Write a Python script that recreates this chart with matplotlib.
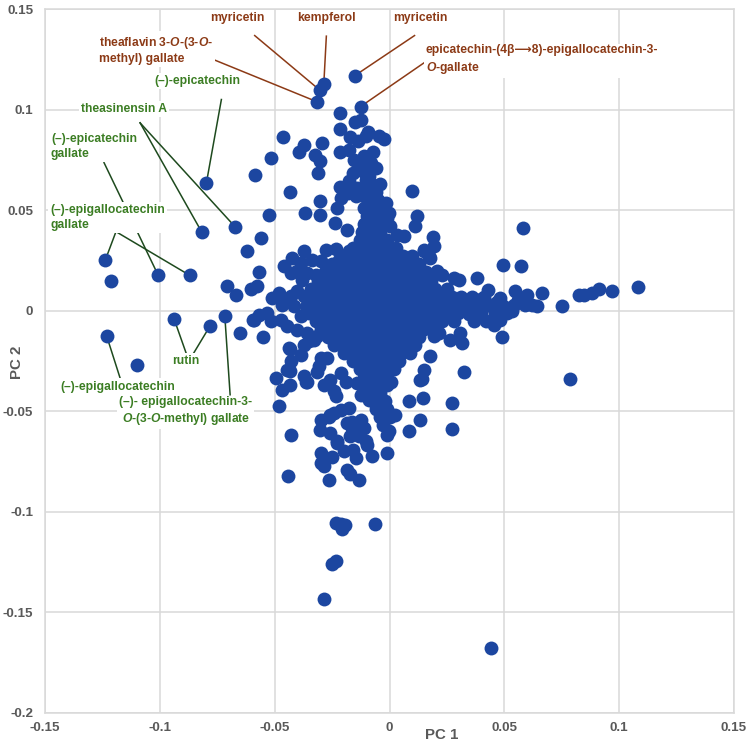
import numpy as np
import matplotlib
matplotlib.use("Agg")
import matplotlib.pyplot as plt

plt.rcParams['font.family'] = ['Liberation Sans', 'DejaVu Sans']
plt.rcParams['font.weight'] = 'bold'
plt.rcParams['mathtext.fontset'] = 'custom'
plt.rcParams['mathtext.it'] = 'Liberation Sans:italic:bold'
plt.rcParams['mathtext.rm'] = 'Liberation Sans:bold'
plt.rcParams['mathtext.bf'] = 'Liberation Sans:bold'

# labelled compounds (PC1, PC2)
named = ['myricetin', 'kempferol', 'theaflavin', 'myricetin2', 'ec-egcg',
         'epicatechin', 'theasinensinA1', 'theasinensinA2', 'ecg', 'egcg1',
         'egcg2', 'rutin1', 'rutin2', 'egc', 'egcg-methyl']
named_pc1 = [-0.0303, -0.0286, -0.0314, -0.0152, -0.0126, -0.0797, -0.0817, -0.0673,
             -0.1007, -0.1238, -0.0870, -0.0938, -0.0781, -0.1232, -0.0717]
named_pc2 = [0.1096, 0.1129, 0.1038, 0.1168, 0.1015, 0.0637, 0.0390, 0.0418,
             0.0176, 0.0250, 0.0176, -0.0041, -0.0075, -0.0124, -0.0028]

# scattered points around the main cloud
pc1 = [-0.0462, -0.0217, -0.0152, -0.0123, -0.0217, -0.0170, -0.0138, -0.0101, -0.0093,
       -0.0047, -0.0025, -0.0373, -0.0394, -0.0296, -0.0323, -0.0303, -0.0217, -0.0177,
       -0.0155, -0.0112, -0.0073, -0.0080, -0.0126, -0.0158, -0.0109, -0.0104, -0.0514,
       -0.0587, -0.0312, -0.0435, -0.0217, -0.0177, -0.0140, -0.0180, -0.0148, -0.0112,
       -0.0210, -0.0303, 0.0099, -0.0230, -0.0525, -0.0368, -0.0303, -0.0238, -0.0184,
       -0.0071, -0.0017, -0.0003, 0.0001, -0.0083, -0.0112, 0.0120, 0.0113, 0.0033,
       0.0062, 0.0190, -0.0561, -0.0619, -0.0010, 0.0149, 0.0171, 0.0193, 0.0152,
       0.0178, 0.0207, 0.0229,
       # right arm
       0.0581, 0.0494, 0.0574, 0.0381, 0.0280, 0.0301, 0.0427, 0.0548, 0.0599, 0.0664,
       0.0642, 0.0620, 0.0533, 0.0483, 0.0751, 0.0826, 0.0848, 0.0881, 0.0910, 0.0968,
       0.1080, 0.0784, 0.0453, 0.0483, 0.0490, 0.0262, 0.0309, 0.0316, 0.0178, 0.0149,
       0.0142, 0.0323, 0.0007, 0.0084, 0.0145, 0.0270, -0.0036, 0.0026, 0.0132, 0.0270,
       0.0084, -0.0003, -0.0010, -0.0013, 0.0193, 0.0214, 0.0132,
       0.0330, 0.0365, 0.0400, 0.0440, 0.0470, 0.0515, 0.0560, 0.0600, 0.0250, 0.0345,
       # left side
       -0.1213, -0.1101, -0.0652, -0.0706, -0.0667, -0.0567, -0.0601, -0.0578, -0.0594,
       -0.0553, -0.0568, -0.0532, -0.0496, -0.0481, -0.0467, -0.0433, -0.0433, -0.0362,
       -0.0433, -0.0427, -0.0442, -0.0264, -0.0133, -0.0184, -0.0170, -0.0297, -0.0300,
       -0.0249, -0.0199, -0.0148, -0.0075, -0.0303, -0.0257, -0.0227, -0.0184, -0.0155,
       -0.0126, -0.0170, -0.0133, -0.0104, -0.0213, -0.0177, -0.0242, -0.0264, -0.0300,
       -0.0286, -0.0227, -0.0158, -0.0097, -0.0126, -0.0090, -0.0053, -0.0047, -0.0140,
       -0.0112, -0.0075, -0.0047, -0.0286, -0.0257, -0.0242, -0.0235, -0.0191, -0.0213,
       -0.0361, -0.0314, -0.0257, -0.0162, -0.0162, -0.0112, -0.0097,
       -0.0459, -0.0423, -0.0430, -0.0387, -0.0373, -0.0336, -0.0300, -0.0278, -0.0235,
       -0.0510, -0.0481, -0.0467, -0.0445, -0.0590, -0.0517, -0.0401, -0.0380, -0.0358,
       -0.0322, -0.0300, -0.0264, -0.0257, -0.0220, -0.0199, -0.0177, -0.0170, -0.0191,
       -0.0438, -0.0430, -0.0387, -0.0373, -0.0351, -0.0329, -0.0307, -0.0300, -0.0271,
       -0.0445, -0.0373, -0.0430, -0.0401, -0.0373, -0.0416, -0.0387, -0.0358, -0.0474,
       -0.0445, -0.0401, -0.0358, -0.0314,
       # bottom tail
       -0.0235, -0.0210, -0.0193, -0.0209, -0.0064, -0.0235, -0.0252, -0.0287, 0.0441]
pc2 = [0.0866, 0.0985, 0.0939, 0.0947, 0.0902, 0.0864, 0.0842, 0.0867, 0.0889,
       0.0867, 0.0856, 0.0822, 0.0790, 0.0836, 0.0776, 0.0743, 0.0790, 0.0801,
       0.0751, 0.0768, 0.0790, 0.0735, 0.0718, 0.0685, 0.0688, 0.0652, 0.0758,
       0.0677, 0.0685, 0.0592, 0.0615, 0.0643, 0.0610, 0.0586, 0.0569, 0.0569,
       0.0561, 0.0547, 0.0594, 0.0511, 0.0478, 0.0486, 0.0478, 0.0436, 0.0403,
       0.0511, 0.0536, 0.0486, 0.0419, 0.0436, 0.0403, 0.0469, 0.0419, 0.0378,
       0.0370, 0.0367, 0.0362, 0.0295, 0.0461, 0.0303, 0.0270, 0.0320, 0.0299,
       0.0262, 0.0196, 0.0179,
       0.0411, 0.0229, 0.0220, 0.0163, 0.0163, 0.0154, 0.0104, 0.0096, 0.0080, 0.0088,
       0.0021, 0.0030, -0.0003, 0.0063, 0.0025, 0.0080, 0.0080, 0.0088, 0.0108, 0.0100,
       0.0116, -0.0338, -0.0070, -0.0048, -0.0133, -0.0144, -0.0111, -0.0161, -0.0224, -0.0297,
       -0.0338, -0.0307, -0.0352, -0.0451, -0.0434, -0.0459, -0.0463, -0.0517, -0.0542, -0.0589,
       -0.0600, -0.0600, -0.0617, -0.0708, -0.0128, -0.0111, -0.0343,
       0.0040, 0.0010, 0.0060, 0.0025, 0.0045, 0.0015, 0.0055, 0.0035, 0.0070, -0.0015,
       0.0146, -0.0269, -0.0111, 0.0124, 0.0080, 0.0193, 0.0108, 0.0124, -0.0048,
       -0.0133, -0.0020, -0.0011, -0.0335, -0.0473, -0.0393, -0.0368, -0.0302, -0.0352,
       -0.0189, -0.0617, -0.0821, -0.0841, -0.0841, -0.0791, -0.0811, -0.0705, -0.0758,
       -0.0725, -0.0700, -0.0733, -0.0721, -0.0592, -0.0608, -0.0658, -0.0559, -0.0592,
       -0.0542, -0.0625, -0.0625, -0.0650, -0.0493, -0.0484, -0.0509, -0.0526, -0.0542,
       -0.0771, -0.0650, -0.0692, -0.0393, -0.0418, -0.0443, -0.0434, -0.0464, -0.0360,
       -0.0335, -0.0318, -0.0310, -0.0368, -0.0343, -0.0401, -0.0426, -0.0352, -0.0310,
       -0.0355, -0.0307, -0.0517, -0.0551, -0.0584, -0.0584, -0.0667,
       0.0220, 0.0262, 0.0188, 0.0237, 0.0295, 0.0254, 0.0245, 0.0303, 0.0307,
       0.0063, 0.0088, 0.0030, 0.0055, -0.0045, -0.0053, 0.0196, 0.0154, 0.0188,
       0.0179, 0.0154, 0.0179, 0.0129, 0.0254, 0.0196, 0.0295, 0.0254, 0.0146,
       -0.0186, -0.0252, -0.0219, -0.0169, -0.0153, -0.0144, -0.0277, -0.0235, -0.0235,
       -0.0294, -0.0327, 0.0071, 0.0096, 0.0071, 0.0021, -0.0028, 0.0005, -0.0045,
       -0.0078, -0.0095, -0.0111, -0.0128,
       -0.1056, -0.1059, -0.1065, -0.1086, -0.1061, -0.1244, -0.1259, -0.1433, -0.1675]

# dense centre of the cloud, read row by row (PC2 level -> PC1 values)
core_pc2 = [0.071, 0.067, 0.063, 0.059, 0.055, 0.051, 0.047, 0.043, 0.039, 0.035,
            0.031, 0.027, 0.023, 0.019, 0.015, 0.011, 0.007, 0.003, -0.001, -0.005,
            -0.009, -0.013, -0.017, -0.021, -0.025, -0.029, -0.033, -0.037, -0.041,
            -0.045, -0.049, -0.053, -0.057]
core_pc1 = [
    [-0.006],
    [-0.009],
    [-0.008, -0.004],
    [-0.010, -0.006],
    [-0.009, -0.005],
    [-0.011, -0.007, -0.003],
    [-0.010, -0.006, -0.002],
    [-0.011, -0.007, -0.003],
    [-0.012, -0.008, -0.004],
    [-0.013, -0.009, -0.005, -0.001],
    [-0.016, -0.011, -0.006, -0.002, 0.003],
    [-0.019, -0.014, -0.009, -0.004, 0.001, 0.006, 0.010],
    [-0.025, -0.020, -0.015, -0.010, -0.005, 0.000, 0.004, 0.009, 0.013],
    [-0.028, -0.023, -0.018, -0.013, -0.008, -0.003, 0.002, 0.007, 0.011, 0.016],
    [-0.031, -0.026, -0.021, -0.016, -0.011, -0.006, -0.001, 0.004, 0.009, 0.014, 0.018],
    [-0.034, -0.029, -0.024, -0.019, -0.014, -0.009, -0.004, 0.001, 0.006, 0.011, 0.016,
     0.020, 0.025],
    [-0.033, -0.028, -0.023, -0.018, -0.013, -0.008, -0.003, 0.002, 0.007, 0.012, 0.017,
     0.022, 0.027, 0.031, 0.036, 0.041],
    [-0.036, -0.031, -0.026, -0.021, -0.016, -0.011, -0.006, -0.001, 0.004, 0.009, 0.014,
     0.019, 0.024, 0.029, 0.034, 0.039, 0.044, 0.049, 0.054, 0.059],
    [-0.035, -0.030, -0.025, -0.020, -0.015, -0.010, -0.005, 0.000, 0.005, 0.010, 0.015,
     0.020, 0.025, 0.030, 0.035, 0.040, 0.046, 0.051],
    [-0.032, -0.027, -0.022, -0.017, -0.012, -0.007, -0.002, 0.003, 0.008, 0.013, 0.018,
     0.023, 0.028, 0.037, 0.042],
    [-0.030, -0.025, -0.020, -0.015, -0.010, -0.005, 0.000, 0.005, 0.010, 0.015, 0.020],
    [-0.027, -0.022, -0.017, -0.012, -0.007, -0.002, 0.003, 0.008, 0.013],
    [-0.024, -0.019, -0.014, -0.009, -0.004, 0.001, 0.006, 0.011],
    [-0.020, -0.015, -0.010, -0.005, 0.000, 0.005, 0.009],
    [-0.016, -0.011, -0.006, -0.001, 0.004],
    [-0.013, -0.008, -0.003, 0.002],
    [-0.010, -0.006, -0.002],
    [-0.009, -0.005, -0.001],
    [-0.008, -0.004],
    [-0.007, -0.002],
    [-0.006, -0.001],
    [-0.004, 0.000],
    [-0.003],
]

xticks = [-0.15, -0.1, -0.05, 0, 0.05, 0.1, 0.15]
yticks = [-0.2, -0.15, -0.1, -0.05, 0, 0.05, 0.1, 0.15]

brown = '#8c3a16'
green = '#3b7d23'
green_line = '#1e4a1e'
blue = '#1c46a0'
grey = '#595959'

fig = plt.figure(figsize=(7.5, 7.44), dpi=100)
ax = fig.add_axes([0.06, 0.0417, 0.9187, 0.9462])

cx = [x for row in core_pc1 for x in row]
cy = [y for y, row in zip(core_pc2, core_pc1) for _ in row]
all_x = np.concatenate([pc1, cx, named_pc1])
all_y = np.concatenate([pc2, cy, named_pc2])
ax.scatter(all_x, all_y, s=100, color=blue, linewidths=0, zorder=3)

ax.set_xlim(-0.15, 0.15)
ax.set_ylim(-0.2, 0.15)
ax.set_xticks(xticks)
ax.set_xticklabels([f'{t:g}' for t in xticks])
ax.set_yticks(yticks)
ax.set_yticklabels([f'{t:g}' for t in yticks])
ax.tick_params(length=0, labelsize=9.6, labelcolor=grey)
ax.tick_params(axis='x', pad=6.5)
ax.tick_params(axis='y', pad=8.5)
ax.grid(True, color='#d9d9d9', lw=1.1, zorder=0)
ax.set_axisbelow(True)
for sp in ax.spines.values():
    sp.set_color('#d9d9d9')
    sp.set_linewidth(1.1)

fig.text(0.5893, 0.0121, 'PC 1', ha='center', va='center', fontsize=10.8, color=grey)
fig.text(0.0233, 0.5134, 'PC 2', ha='center', va='center', rotation=90,
         fontsize=10.8, color=grey)

def pt(name):
    i = named.index(name)
    return named_pc1[i], named_pc2[i]

def label(x, y, text, color, ha='center'):
    ax.text(x, y, text, ha=ha, va='center', fontsize=8.7, color=color, zorder=4,
            linespacing=1.3,
            bbox=dict(fc='white', ec='none', pad=1.5))

def leader(x0, y0, name, color):
    x1, y1 = pt(name)
    ax.plot([x0, x1], [y0, y1], color=color, lw=1.1, zorder=2)

O = r'$\mathit{O}$'

# brown labels (top)
label(-0.0661, 0.1453, 'myricetin', brown)
leader(-0.0587, 0.1368, 'myricetin', brown)
label(-0.0274, 0.1453, 'kempferol', brown)
leader(-0.0275, 0.1365, 'kempferol', brown)
label(-0.1265, 0.1296, f'theaflavin 3-{O}-(3-{O}-\nmethyl) gallate', brown, ha='left')
leader(-0.0778, 0.1254, 'theaflavin', brown)
label(0.0135, 0.1453, 'myricetin', brown)
leader(0.0109, 0.1368, 'myricetin2', brown)
label(0.0157, 0.1246, 'epicatechin-(4β⟶8)-epigallocatechin-3-\n' + O + '-gallate',
      brown, ha='left')
leader(0.0160, 0.1240, 'ec-egcg', brown)

# green labels (left)
label(-0.0835, 0.1144, '(–)-epicatechin', green)
leader(-0.0732, 0.1050, 'epicatechin', green_line)
label(-0.1157, 0.1005, 'theasinensin A', green)
leader(-0.1086, 0.0934, 'theasinensinA1', green_line)
leader(-0.1086, 0.0934, 'theasinensinA2', green_line)
leader(-0.1243, 0.0736, 'ecg', green_line)
label(-0.1474, 0.0818, '(–)-epicatechin\ngallate', green, ha='left')
label(-0.1478, 0.0465, '(–)-epigallocatechin\ngallate', green, ha='left')
leader(-0.1191, 0.0393, 'egcg1', green_line)
leader(-0.1191, 0.0393, 'egcg2', green_line)
label(-0.0887, -0.0249, 'rutin', green)
leader(-0.0883, -0.0219, 'rutin1', green_line)
leader(-0.0857, -0.0219, 'rutin2', green_line)
label(-0.1183, -0.0377, '(–)-epigallocatechin', green)
leader(-0.1173, -0.0335, 'egc', green_line)
label(-0.0887, -0.0500, '(–)- epigallocatechin-3-\n' + O + '-(3-' + O + '-methyl) gallate',
      green)
leader(-0.0694, -0.0418, 'egcg-methyl', green_line)

fig.savefig('out.png', dpi=100)
